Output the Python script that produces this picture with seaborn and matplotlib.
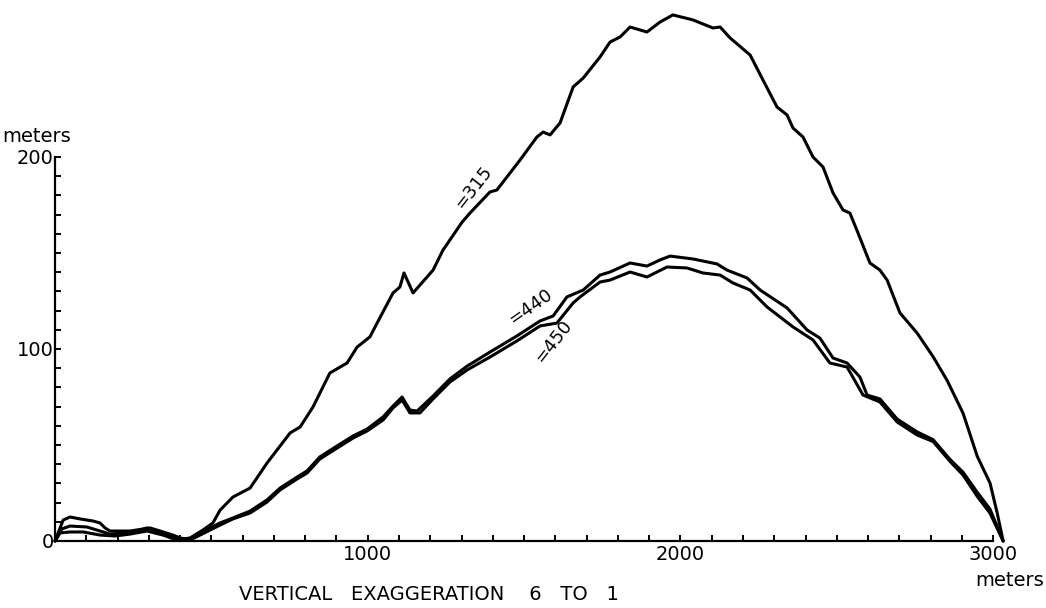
import numpy as np
import pandas as pd
import matplotlib
matplotlib.use("Agg")
import matplotlib.pyplot as plt
import seaborn as sns

# profile "315" (distance in m, height in m)
x_315 = [0, 26, 48, 80, 122, 144, 160, 176, 240, 304, 336, 377, 409, 432, 473, 505,
         528, 569, 624, 678, 710, 752, 784, 825, 879, 934, 966, 1007, 1030, 1081, 1103,
         1116, 1145, 1209, 1241, 1302, 1327, 1391, 1413, 1487, 1541, 1561, 1583, 1615,
         1657, 1689, 1743, 1775, 1807, 1839, 1893, 1935, 1976, 2040, 2104, 2127, 2159,
         2223, 2264, 2309, 2341, 2360, 2392, 2424, 2456, 2488, 2520, 2542, 2568, 2606,
         2638, 2661, 2702, 2757, 2808, 2853, 2904, 2949, 2990, 3013, 3032]
y_315 = [0, 10.9, 12.5, 11.5, 10.4, 9.4, 6.8, 5.2, 5.2, 6.8, 5.2, 3.1, 1.0, 1.6, 5.7, 9.4,
         16.1, 22.9, 27.6, 40.6, 47.4, 56.3, 59.4, 69.8, 87.5, 92.7, 101.0, 106.3, 113.5, 129.2, 132.3,
         139.6, 129.2, 141.1, 151.6, 166.1, 170.8, 181.8, 182.8, 198.4, 210.4, 213.0, 211.5, 217.7,
         236.5, 241.1, 252.1, 259.9, 262.5, 267.7, 265.1, 270.3, 274.0, 271.4, 267.2, 267.7, 262.0,
         253.1, 240.1, 226.0, 221.9, 215.1, 210.4, 200.0, 194.8, 181.3, 172.4, 170.8, 160.4, 144.8,
         141.1, 135.9, 118.8, 108.3, 96.0, 83.6, 66.5, 44.2, 30.2, 14.6, 0]

# profile "440"
x_440 = [0, 22, 48, 102, 144, 176, 224, 272, 294, 345, 390, 432, 464, 496, 528, 569,
         624, 678, 720, 774, 806, 847, 902, 953, 998, 1049, 1081, 1110, 1135, 1158, 1209,
         1263, 1318, 1391, 1477, 1551, 1593, 1637, 1689, 1743, 1775, 1839, 1893, 1935, 1967,
         2040, 2117, 2149, 2213, 2255, 2341, 2405, 2446, 2488, 2533, 2574, 2597, 2638, 2693,
         2757, 2808, 2862, 2904, 2949, 2990, 3032]
y_440 = [0, 6.3, 7.8, 7.3, 5.2, 3.6, 4.2, 5.7, 6.8, 4.2, 1.6, 1.0, 4.2, 6.8, 9.4, 12.0,
         15.6, 21.4, 27.6, 33.3, 36.5, 43.8, 49.5, 54.7, 58.3, 64.6, 70.3, 75.0, 68.2, 67.7, 75.5,
         84.4, 91.1, 98.4, 106.8, 114.6, 117.2, 127.1, 130.7, 138.5, 140.1, 144.8, 143.2, 146.4, 148.4,
         146.9, 144.3, 141.1, 137.0, 130.7, 121.4, 109.9, 105.7, 95.3, 92.7, 85.4, 76.0, 74.0, 63.5,
         56.8, 52.8, 42.5, 35.8, 25.4, 16.6, 0]

# profile "450"
x_450 = [0, 16, 48, 90, 144, 192, 240, 294, 345, 390, 432, 464, 496, 528, 569, 624,
         678, 720, 774, 806, 847, 902, 953, 998, 1049, 1081, 1110, 1135, 1167, 1209, 1263,
         1318, 1391, 1477, 1551, 1605, 1657, 1679, 1743, 1775, 1839, 1893, 1957, 2021, 2072,
         2127, 2168, 2223, 2277, 2360, 2424, 2478, 2533, 2584, 2638, 2693, 2757, 2808, 2862,
         2904, 2949, 2990, 3032]
y_450 = [0, 4.2, 4.7, 4.7, 3.1, 2.6, 3.6, 5.2, 3.1, 0.5, 0.5, 3.1, 5.7, 8.3, 11.5, 14.6,
         20.3, 26.6, 32.3, 35.4, 42.7, 48.4, 53.6, 57.3, 63.0, 69.3, 73.4, 66.7, 66.7, 74.0, 82.8,
         89.1, 95.8, 104.2, 112.0, 113.5, 124.0, 127.1, 134.9, 135.9, 140.1, 137.5, 142.7, 142.2, 139.6,
         138.5, 134.4, 130.7, 121.9, 111.5, 104.7, 92.7, 90.6, 76.0, 72.4, 62.0, 55.2, 51.8, 41.5,
         34.3, 23.3, 14.5, 0]

x_ticks = [1000, 2000, 3000]
y_ticks = [0, 100, 200]

sns.set_style("ticks")
plt.rcParams['font.family'] = ['DejaVu Sans']
plt.rcParams['text.color'] = 'black'

fig = plt.figure(figsize=(10.46, 6.08), dpi=100)
ax = fig.add_axes([55 / 1046, 67 / 608, 969.4 / 1046, 537.6 / 608])

for xs, ys in [(x_315, y_315), (x_440, y_440), (x_450, y_450)]:
    df = pd.DataFrame({"dist": xs, "height": ys})
    sns.lineplot(data=df, x="dist", y="height", sort=False, estimator=None,
                 color="black", linewidth=2.2, ax=ax, clip_on=False,
                 solid_joinstyle="round", solid_capstyle="round")

ax.set_xlim(0, 3100)
ax.set_ylim(0, 280)
ax.set_xlabel("")
ax.set_ylabel("")

sns.despine(ax=ax)
ax.spines['left'].set_bounds(0, 200)
ax.spines['bottom'].set_bounds(0, 3000)
ax.spines['left'].set_linewidth(1.6)
ax.spines['bottom'].set_linewidth(1.6)
ax.spines['left'].set_color('black')
ax.spines['bottom'].set_color('black')

ax.set_xticks(x_ticks)
ax.set_xticklabels([str(v) for v in x_ticks])
ax.set_xticks(np.arange(100, 3001, 100), minor=True)
ax.set_yticks(y_ticks)
ax.set_yticklabels([str(v) for v in y_ticks])
ax.set_yticks(np.arange(10, 201, 10), minor=True)
ax.tick_params(which="both", direction="in", length=4, width=1.4, color="black",
               labelsize=14, labelcolor="black")
ax.tick_params(axis="y", pad=1)
ax.tick_params(axis="x", pad=3)

# curve labels
ax.text(1337, 184, "=315", rotation=52, fontsize=13, ha="center", va="center")
ax.text(1519, 122, "=440", rotation=35, fontsize=13, ha="center", va="center")
ax.text(1593, 104, "=450", rotation=52, fontsize=13, ha="center", va="center")

# unit labels
fig.text(37 / 1046, 1 - 137 / 608, "meters", fontsize=14, ha="center", va="center")
fig.text(1010 / 1046, 1 - 581 / 608, "meters", fontsize=14, ha="center", va="center")
fig.text(429 / 1046, 1 - 595 / 608, "VERTICAL   EXAGGERATION    6   TO   1",
         fontsize=14, ha="center", va="center")

fig.savefig("out.png", dpi=100, facecolor="white")
